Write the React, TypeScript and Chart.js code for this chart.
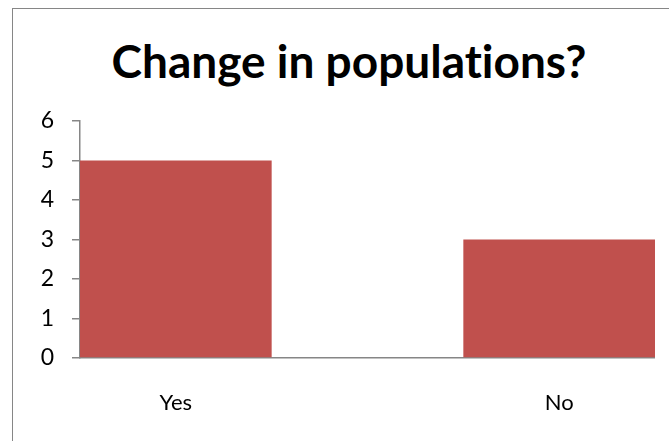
import React, { useEffect, useRef } from "react";
import { Chart, registerables } from "chart.js";

Chart.register(...registerables);

const categories: string[] = ["Yes", "No"];
const values: number[] = [5, 3];
const titleText = "Change in populations?";
const yMin = 0;
const yMax = 6;
const yStep = 1;

const BAR = "#C0504D";
const GRAY = "#868686";
const FONT = "Lato";

export default function App() {
  const ref = useRef<HTMLCanvasElement | null>(null);

  useEffect(() => {
    if (!ref.current) return;
    const chart = new Chart(ref.current, {
      type: "bar",
      data: {
        datasets: [
          {
            data: categories.map((c, i) => ({ x: i, y: values[i] })),
            backgroundColor: BAR,
            borderWidth: 0,
            barPercentage: 1,
            categoryPercentage: 0.5,
          },
        ],
      },
      options: {
        animation: false,
        responsive: false,
        maintainAspectRatio: false,
        layout: { padding: { left: 0, right: 0, top: 112, bottom: 21 } },
        plugins: {
          legend: { display: false },
          tooltip: { enabled: false },
          title: { display: false },
        },
        scales: {
          x: {
            type: "linear",
            offset: false,
            min: -0.25,
            max: categories.length - 0.75,
            afterBuildTicks: (s: any) => {
              s.ticks = categories.map((_, i) => ({ value: i }));
            },
            afterFit: (s: any) => {
              s.height = 80;
            },
            grid: { display: false, drawTicks: false },
            border: { display: true, color: GRAY, width: 1.5 },
            ticks: {
              autoSkip: false,
              maxRotation: 0,
              padding: 32,
              color: "#000",
              font: { family: FONT, size: 22 },
              callback: (v: any) => categories[Number(v)] ?? "",
            },
          },
          y: {
            min: yMin,
            max: yMax,
            afterFit: (s: any) => {
              s.width = 67;
            },
            grid: {
              drawOnChartArea: false,
              drawTicks: true,
              tickLength: 8,
              color: GRAY,
              lineWidth: 1.5,
            },
            border: { display: true, color: GRAY, width: 1.5 },
            ticks: {
              stepSize: yStep,
              padding: 18,
              color: "#000",
              font: { family: FONT, size: 23 },
            },
          },
        },
      },
    });
    return () => chart.destroy();
  }, []);

  return (
    <div
      style={{
        position: "fixed",
        left: 0,
        top: 0,
        width: 669,
        height: 441,
        overflow: "hidden",
        background: "#fff",
      }}
    >
      <div
        style={{
          position: "absolute",
          left: 12,
          top: 8,
          width: 672,
          height: 450,
          border: `1px solid ${GRAY}`,
          background: "#fff",
        }}
      >
        <div
          style={{
            position: "absolute",
            left: 0,
            top: 23.6,
            width: 672,
            textAlign: "center",
            fontFamily: FONT,
            fontWeight: 700,
            fontSize: 46,
            lineHeight: "55.2px",
            color: "#000",
            fontVariantLigatures: "none",
            whiteSpace: "nowrap",
          }}
        >
          {titleText}
        </div>
        <canvas
          ref={ref}
          width={642}
          height={450}
          style={{
            position: "absolute",
            left: 0,
            top: 0,
            display: "block",
            width: 642,
            height: 450,
          }}
        />
      </div>
    </div>
  );
}
